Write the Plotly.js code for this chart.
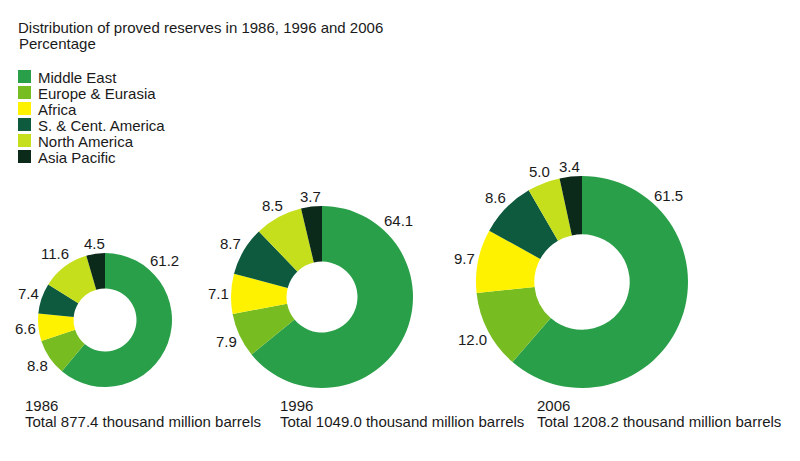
<!DOCTYPE html>
<html><head><meta charset="utf-8">
<script src="https://cdn.plot.ly/plotly-3.0.1.min.js"></script>
<style>html,body{margin:0;padding:0;background:#fff}#chart{width:800px;height:461px}</style>
</head><body><div id="chart"></div>
<script>
const regions = ['Middle East','Europe & Eurasia','Africa','S. & Cent. America','North America','Asia Pacific'];
const years = ['1986','1996','2006'];
const share1986 = [61.2, 8.8, 6.6, 7.4, 11.6, 4.5];
const share1996 = [64.1, 7.9, 7.1, 8.7, 8.5, 3.7];
const share2006 = [61.5, 12.0, 9.7, 8.6, 5.0, 3.4];
const totals = ['877.4','1049.0','1208.2'];
const titleLine1 = 'Distribution of proved reserves in 1986, 1996 and 2006';
const titleLine2 = 'Percentage';

const colors = ['#2a9f4a','#77bc21','#fff200','#0d5a3f','#c6df1c','#0b2a19'];
const W = 800, H = 461;
const FONT = 'Liberation Sans, Arial, sans-serif';
const TXT = '#1a1a1a';
const FS = 15;
// pie geometry (pixels): centre x, centre y, radius, hole fraction
const geom = [
  {cx:105, cy:320, r:67, hole:0.47},
  {cx:322, cy:297, r:91, hole:0.39},
  {cx:582, cy:282, r:106, hole:0.45}
];
const series = [share1986, share1996, share2006];

const traces = series.map((vals, i) => {
  const g = geom[i];
  return {
    type:'pie', values: vals, labels: regions, sort:false, direction:'clockwise', rotation:0,
    hole: g.hole, textinfo:'none', hoverinfo:'label+value',
    marker:{colors: colors, line:{width:0}},
    domain:{x:[(g.cx-g.r)/W,(g.cx+g.r)/W], y:[1-(g.cy+g.r)/H, 1-(g.cy-g.r)/H]},
    showlegend: false, name: years[i]
  };
});

const annotations = [];
const shapes = [];
series.forEach((vals, i) => {
  const g = geom[i];
  const sum = vals.reduce((a,b)=>a+b,0);
  let cum = 0;
  vals.forEach((v, k) => {
    let frac = (cum + v/2)/sum;
    cum += v;
    let th = frac*2*Math.PI;
    if (k === 0) th = Math.PI/4; // largest slice label at upper right
    const s = Math.sin(th), c = Math.cos(th);
    const txt = v.toFixed(1);
    const hw = txt.length*3.5, hh = 7;
    const d = g.r + 2 + Math.abs(s)*hw + Math.abs(c)*hh;
    annotations.push({xref:'paper', yref:'paper', x:(g.cx + d*s)/W, y:1-(g.cy - d*c)/H,
      text: txt, showarrow:false, xanchor:'center', yanchor:'middle',
      font:{family:FONT, size:FS, color:TXT}});
  });
});
const bottomX = [23, 278, 535];
years.forEach((y, i) => {
  annotations.push({xref:'paper', yref:'paper', x:bottomX[i]/W, y:1-405/H, xanchor:'left', yanchor:'middle',
    text:y, showarrow:false, font:{family:FONT, size:FS, color:TXT}});
  annotations.push({xref:'paper', yref:'paper', x:bottomX[i]/W, y:1-421/H, xanchor:'left', yanchor:'middle',
    text:'Total ' + totals[i] + ' thousand million barrels', showarrow:false, font:{family:FONT, size:FS, color:TXT}});
});
annotations.push({xref:'paper', yref:'paper', x:17/W, y:1-44/H, xanchor:'left', yanchor:'middle',
  text:titleLine2, showarrow:false, font:{family:FONT, size:FS, color:TXT}});

// legend (swatches + labels)
const legTop = 70, legStep = 16, sw = 13;
regions.forEach((reg, k) => {
  const y0 = legTop + k*legStep;
  shapes.push({type:'rect', xref:'paper', yref:'paper', x0:18/W, x1:(18+sw)/W,
    y0:1-(y0+sw)/H, y1:1-y0/H, fillcolor:colors[k], line:{width:0}});
  annotations.push({xref:'paper', yref:'paper', x:36/W, y:1-(y0+sw/2+1)/H, xanchor:'left', yanchor:'middle',
    text:reg, showarrow:false, font:{family:FONT, size:FS, color:TXT}});
});

const layout = {
  width:W, height:H, margin:{l:0,r:0,t:0,b:0},
  paper_bgcolor:'#fff', plot_bgcolor:'#fff', showlegend:false,
  title:{text:titleLine1, x:18/W, xanchor:'left', y:1-28/H, yanchor:'middle', xref:'paper', yref:'paper',
    font:{family:FONT, size:FS, color:TXT}},
  annotations: annotations, shapes: shapes
};
Plotly.newPlot('chart', traces, layout, {staticPlot:true});
</script></body></html>
